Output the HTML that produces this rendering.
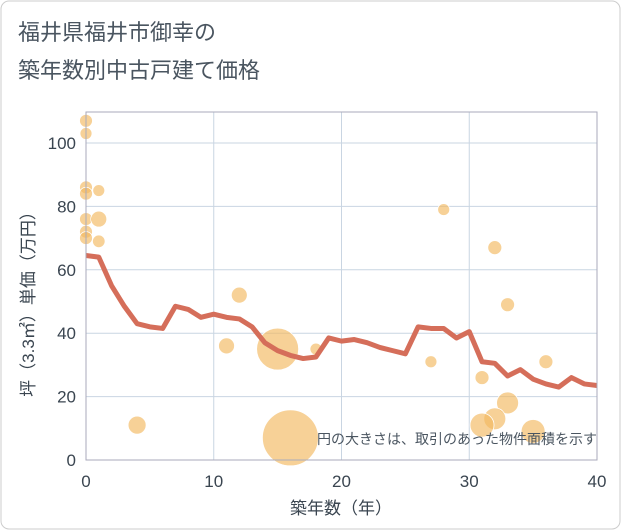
<!DOCTYPE html>
<html><head><meta charset="utf-8"><style>
body{margin:0;background:#fff;}
svg{display:block;font-family:"Liberation Sans","Noto Sans CJK JP",sans-serif;}
</style></head><body>
<svg width="621" height="530">
<rect x="1" y="1" width="619" height="528" rx="8" fill="#fff" stroke="#ccc"/>
<text x="18" y="40" font-size="22" fill="#4a5560">福井県福井市御幸の</text>
<text x="18" y="78" font-size="22" fill="#4a5560">築年数別中古戸建て価格</text>
<g id="grid"></g>
<g id="bubbles"></g>
<path id="line" fill="none" stroke="#d56e5a" stroke-width="5" stroke-linejoin="round"/>
<rect x="86" y="112" width="511" height="348" fill="none" stroke="#aab"/>
<g id="ticks"></g>
<text x="597" y="444" font-size="14" fill="#4a5560" text-anchor="end">円の大きさは、取引のあった物件面積を示す</text>
<text x="341" y="514" font-size="17" fill="#3a4550" text-anchor="middle">築年数（年）</text>
<text transform="translate(34,300) rotate(-90)" font-size="17" fill="#3a4550" text-anchor="middle">坪（3.3㎡）単価（万円）</text>
</svg>
<script>
const lineX=[0,1,2,3,4,5,6,7,8,9,10,11,12,13,14,15,16,17,18,19,20,21,22,23,24,25,26,27,28,29,30,31,32,33,34,35,36,37,38,39,40];
const lineY=[64.5,64,55,48.5,43,42,41.5,48.5,47.5,45,46,45,44.5,42,37,34.5,33,32,32.5,38.5,37.5,38,37,35.5,34.5,33.5,42,41.5,41.5,38.5,40.5,31,30.5,26.5,28.5,25.5,24,23,26,24,23.5];
const bubX=[0,0,0,0,1,0,1,0,0,1,4,12,11,15,16,18,27,28,32,33,36,31,33,32,31,35];
const bubY=[107,103,86,84,85,76,76,72,70,69,11,52,36,35,7,35,31,79,67,49,31,26,18,13,11,9];
const bubArea=[42,36,42,42,36,42,64,42,42,40,81,64,64,441,784,36,36,36,49,49,49,49,121,121,144,144];
const xTicks=[0,10,20,30,40];
const yTicks=[0,20,40,60,80,100];
const NS="http://www.w3.org/2000/svg";
const sx=v=>86+v*(511/40);
const sy=v=>460-v*3.17;
const grid=document.getElementById('grid'),ticks=document.getElementById('ticks');
xTicks.forEach(t=>{
 const l=document.createElementNS(NS,'line');
 
 
 l.setAttribute('x1',sx(t));l.setAttribute('x2',sx(t));l.setAttribute('y1',112);l.setAttribute('y2',460);
 l.setAttribute('stroke','#c9d5e2');grid.appendChild(l);
 const tx=document.createElementNS(NS,'text');
 
 
 tx.setAttribute('x',sx(t));tx.setAttribute('y',487);tx.setAttribute('font-size','17');tx.setAttribute('fill','#3a4550');tx.setAttribute('text-anchor','middle');
 tx.textContent=t;ticks.appendChild(tx);
});
yTicks.forEach(t=>{
 const l=document.createElementNS(NS,'line');
 
 
 l.setAttribute('x1',86);l.setAttribute('x2',597);l.setAttribute('y1',sy(t));l.setAttribute('y2',sy(t));
 l.setAttribute('stroke','#c9d5e2');grid.appendChild(l);
 const tx=document.createElementNS(NS,'text');
 
 
 tx.setAttribute('x',76);tx.setAttribute('y',sy(t)+6);tx.setAttribute('font-size','17');tx.setAttribute('fill','#3a4550');tx.setAttribute('text-anchor','end');
 tx.textContent=t;ticks.appendChild(tx);
});
const bg=document.getElementById('bubbles');
bubX.forEach((x,i)=>{
 const c=document.createElementNS(NS,'circle');
 
 
 c.setAttribute('cx',sx(x));c.setAttribute('cy',sy(bubY[i]));c.setAttribute('r',Math.sqrt(bubArea[i]));
 c.setAttribute('fill','rgba(242,185,95,0.65)');c.setAttribute('stroke','#fff');c.setAttribute('stroke-width','0.8');
 bg.appendChild(c);
});
document.getElementById('line').setAttribute('d',lineX.map((x,i)=>(i?'L':'M')+sx(x)+','+sy(lineY[i])).join(''));
</script>
</body></html>
